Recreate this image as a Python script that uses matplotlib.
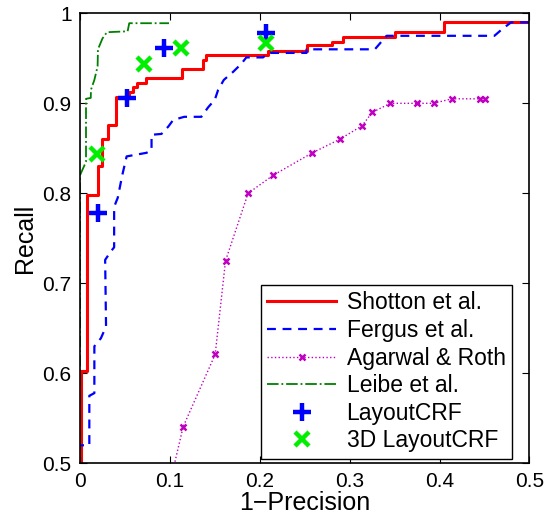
import matplotlib
matplotlib.use("Agg")
import matplotlib.pyplot as plt

plt.rcParams['font.family'] = ['Liberation Sans', 'DejaVu Sans']

# Shotton et al. (step vertices, steps-post)
shotton_x = [0.001, 0.001, 0.0075, 0.0196, 0.0244, 0.0307, 0.04, 0.0548, 0.0593, 0.063, 0.0733,
             0.113, 0.137, 0.1407, 0.209, 0.252, 0.2807, 0.2926, 0.35, 0.4044, 0.5]
shotton_y = [0.48, 0.603, 0.798, 0.83, 0.86, 0.876, 0.907, 0.913, 0.918, 0.923, 0.928,
             0.938, 0.948, 0.954, 0.958, 0.965, 0.9685, 0.974, 0.9796, 0.99, 0.99]

# Fergus et al.
fergus_x = [0.0, 0.0, 0.0104, 0.0104, 0.016, 0.016, 0.0233, 0.029, 0.028, 0.034, 0.038, 0.038,
            0.042, 0.047, 0.0519, 0.074, 0.0796, 0.0796, 0.0907, 0.0981, 0.1037, 0.116, 0.135,
            0.1426, 0.15, 0.1537, 0.16, 0.1704, 0.1796, 0.185, 0.2037, 0.209, 0.252, 0.252,
            0.328, 0.341, 0.461, 0.4685, 0.4796, 0.5]
fergus_y = [0.48, 0.52, 0.52, 0.575, 0.578, 0.63, 0.639, 0.652, 0.726, 0.735, 0.74, 0.785,
            0.795, 0.82, 0.841, 0.845, 0.848, 0.865, 0.866, 0.874, 0.8815, 0.885, 0.885,
            0.8956, 0.904, 0.915, 0.926, 0.935, 0.944, 0.951, 0.951, 0.956, 0.956, 0.96,
            0.96, 0.975, 0.975, 0.9815, 0.99, 0.99]

# Agarwal & Roth
agarwal_x = [0.0935, 0.1148, 0.1504, 0.1619, 0.187, 0.2148, 0.2585, 0.2889, 0.3137, 0.3252,
             0.3452, 0.3748, 0.3933, 0.4137, 0.4452, 0.4507]
agarwal_y = [0.45, 0.5407, 0.621, 0.725, 0.80, 0.82, 0.845, 0.86, 0.875, 0.89,
             0.90, 0.90, 0.90, 0.905, 0.905, 0.905]

# Leibe et al.
leibe_x = [0.0, 0.0, 0.0067, 0.0067, 0.012, 0.0122, 0.016, 0.0196, 0.02, 0.025, 0.030,
           0.053, 0.0548, 0.099]
leibe_y = [0.48, 0.82, 0.835, 0.905, 0.906, 0.915, 0.926, 0.941, 0.96, 0.972, 0.979,
           0.98, 0.989, 0.989]

# LayoutCRF / 3D LayoutCRF
layout_x = [0.0204, 0.0519, 0.0937, 0.2067]
layout_y = [0.778, 0.906, 0.962, 0.978]
layout3d_x = [0.0185, 0.0711, 0.1122, 0.2074]
layout3d_y = [0.844, 0.944, 0.961, 0.967]

fig = plt.figure(figsize=(5.55, 5.18), dpi=100)
ax = fig.add_axes([0.1441, 0.1056, 0.8099, 0.8687])

ax.plot(shotton_x, shotton_y, color='#ff0000', lw=2.2, drawstyle='steps-post', label='Shotton et al.')
ax.plot(fergus_x, fergus_y, color='#0000ff', lw=1.6, ls=(0, (4, 3)), label='Fergus et al.')
ax.plot(agarwal_x, agarwal_y, color='#c000c0', lw=1.0, ls=':', marker='x', ms=5, mew=1.8,
        label='Agarwal & Roth')
ax.plot(leibe_x, leibe_y, color='#008000', lw=1.3, ls='-.', label='Leibe et al.')
ax.plot(layout_x, layout_y, ls='none', color='#0000ff', marker='+', ms=13, mew=3.2, label='LayoutCRF')
ax.plot(layout3d_x, layout3d_y, ls='none', color='#00ee00', marker='x', ms=10, mew=3.2,
        label='3D LayoutCRF')

ax.set_xlim(0, 0.5)
ax.set_ylim(0.5, 1)
ax.set_xticks([0, 0.1, 0.2, 0.3, 0.4, 0.5])
ax.set_xticklabels(['0', '0.1', '0.2', '0.3', '0.4', '0.5'])
ax.set_yticks([0.5, 0.6, 0.7, 0.8, 0.9, 1.0])
ax.set_yticklabels(['0.5', '0.6', '0.7', '0.8', '0.9', '1'])
ax.tick_params(direction='in', top=True, right=True, labelsize=15, length=5, width=0.8, pad=6)
for s in ax.spines.values():
    s.set_linewidth(1.2)

ax.set_xlabel('1\u2212Precision', fontsize=18, labelpad=0)
ax.set_ylabel('Recall', fontsize=18, labelpad=4)

leg = ax.legend(loc='lower right', bbox_to_anchor=(0.962, 0.009), borderaxespad=0, fontsize=16.5,
                handlelength=3.0, fancybox=False, framealpha=1, edgecolor='black',
                labelspacing=0.2, handletextpad=0.45, borderpad=0.3)
leg.get_frame().set_linewidth(1.0)

fig.savefig('out.png', dpi=100)
